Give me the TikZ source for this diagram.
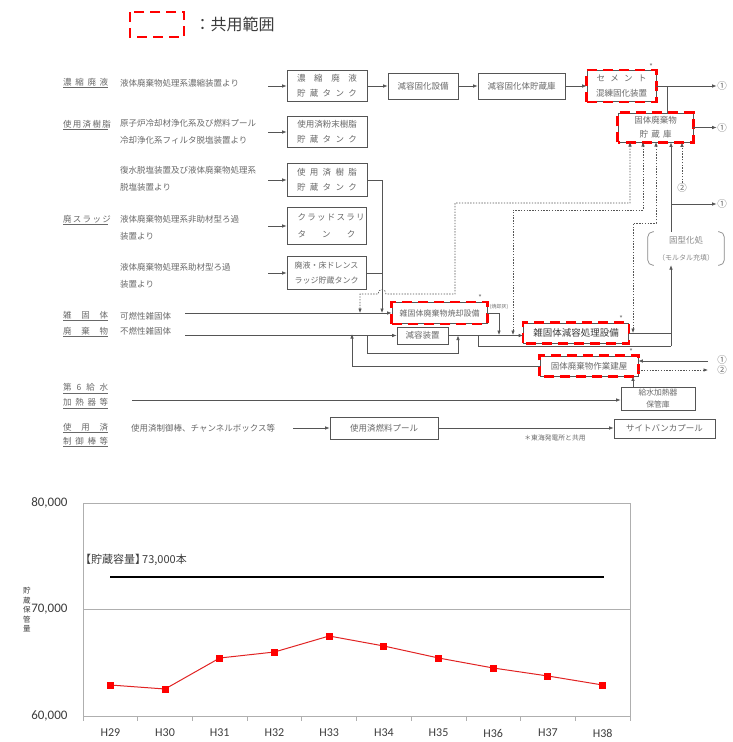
\documentclass[tikz,border=0pt]{standalone}
\usepackage{fontspec}
\setmainfont{Noto Sans CJK JP}
\newfontfamily\chartfont{Carlito}
\usetikzlibrary{arrows.meta,positioning,calc}
\definecolor{linegray}{RGB}{85,85,85}
\definecolor{textgray}{RGB}{105,105,105}
\definecolor{sharedred}{RGB}{255,0,0}
\definecolor{framegray}{RGB}{175,175,175}
\definecolor{plotred}{RGB}{225,35,35}
\definecolor{labdark}{RGB}{60,60,60}
\newcommand{\spread}[2][58pt]{\makebox[#1][s]{#2}}
\tikzset{
  % flow boxes
  tank/.style    = {draw=linegray, line width=0.7pt, fill=white, text=textgray,
                    font=\fontsize{8.5}{15}\selectfont, align=center, inner sep=0pt},
  shared/.style  = {draw=sharedred, line width=2.6pt, dash pattern=on 10pt off 6pt},
  % connectors
  flow/.style    = {draw=linegray, line width=0.7pt, -{Latex[length=4.5pt,width=3.6pt]}},
  link/.style    = {draw=linegray, line width=0.7pt},
  dotflow/.style = {draw=linegray, line width=0.7pt, dash pattern=on 1.4pt off 1.4pt,
                    -{Latex[length=4.5pt,width=3.6pt]}},
  dotboth/.style = {dotflow, {Latex[length=4.5pt,width=3.6pt]}-{Latex[length=4.5pt,width=3.6pt]}},
  % texts
  src/.style     = {text=textgray, font=\fontsize{8.5}{16.5}\selectfont, anchor=west,
                    align=left, inner sep=0pt},
  outmark/.style = {text=textgray, font=\fontsize{9.5}{9.5}\selectfont, inner sep=0.5pt},
  star/.style    = {text=textgray, font=\fontsize{7.5}{7.5}\selectfont, inner sep=0pt},
  % chart
  frame/.style    = {draw=framegray, line width=0.8pt},
  capline/.style  = {draw=black, line width=2.4pt},
  dataline/.style = {draw=plotred, line width=1pt},
  datamark/.style = {fill=sharedred, minimum size=7pt, inner sep=0pt},
  axlab/.style    = {text=labdark, font=\chartfont\fontsize{13}{13}\selectfont, anchor=east},
  catlab/.style   = {text=labdark, font=\chartfont\fontsize{12}{12}\selectfont},
}
\begin{document}
\begin{tikzpicture}[x=1pt,y=-1pt]
  \useasboundingbox (0,0) rectangle (732,742);
  % legend
  \draw[shared] (130,12) rectangle (184,37);
  \node[anchor=west, text=labdark, font=\fontsize{16}{16}\selectfont] (legend) at (191,24) {：共用範囲};

  % category labels
  \node[src] (c1) at (63,83) {\underline{\spread[45pt]{濃 縮 廃 液}}};
  \node[src] (c2) at (63,125) {\underline{\spread[45pt]{使 用 済 樹 脂}}};
  \node[src] (c3) at (63,220) {\underline{\spread[45pt]{廃 ス ラ ッ ジ}}};
  \node[src] (c4) at (63,316) {\underline{\spread[45pt]{雑 固 体}}};
  \node[src] (c5) at (63,332) {\underline{\spread[45pt]{廃 棄 物}}};
  \node[src, font=\fontsize{8.5}{15}\selectfont] (c6) at (63,396)
    {\underline{\spread[45pt]{第 6 給 水}}\\\underline{\spread[45pt]{加 熱 器 等}}};
  \node[src, font=\fontsize{8.5}{14}\selectfont] (c7) at (63,435)
    {\underline{\spread[45pt]{使 用 済}}\\\underline{\spread[45pt]{制 御 棒 等}}};

  % source texts
  \node[src] (t1) at (120,83) {液体廃棄物処理系濃縮装置より};
  \node[src] (t2) at (120,132) {原子炉冷却材浄化系及び燃料プール\\冷却浄化系フィルタ脱塩装置より};
  \node[src] (t3) at (120,179) {復水脱塩装置及び液体廃棄物処理系\\脱塩装置より};
  \node[src] (t4) at (120,228) {液体廃棄物処理系非助材型ろ過\\装置より};
  \node[src] (t5) at (120,276) {液体廃棄物処理系助材型ろ過\\装置より};
  \node[src] (t6) at (120,316) {可燃性雑固体};
  \node[src] (t7) at (120,331) {不燃性雑固体};
  \node[src] (t8) at (131,428) {使用済制御棒、チャンネルボックス等};

  % boxes
  \node[tank, minimum width=80pt, minimum height=31pt] (conc) at (327,86)
    {\spread[60pt]{濃 縮 廃 液}\\\spread[60pt]{貯 蔵 タ ン ク}};
  \node[tank, minimum width=70pt, minimum height=26pt] (solid) at (423,86) {減容固化設備};
  \node[tank, minimum width=87pt, minimum height=26pt] (store) at (521.5,86) {減容固化体貯蔵庫};
  \node[tank, minimum width=69pt, minimum height=31pt] (cement) at (621.5,86)
    {\spread[50pt]{セ メ ン ト}\\混練固化装置};
  \node[tank, minimum width=80pt, minimum height=31pt] (resinA) at (327,132)
    {使用済粉末樹脂\\\spread[60pt]{貯 蔵 タ ン ク}};
  \node[tank, minimum width=80pt, minimum height=33pt] (resinB) at (327,180)
    {\spread[60pt]{使 用 済 樹 脂}\\\spread[60pt]{貯 蔵 タ ン ク}};
  \node[tank, minimum width=79pt, minimum height=37pt, font=\fontsize{8.5}{17}\selectfont] (crud) at (326.5,226)
    {\spread[58pt]{ク ラ ッ ド ス ラ リ}\\\spread[58pt]{タ ン ク}};
  \node[tank, minimum width=79pt, minimum height=33pt, font=\fontsize{8}{15}\selectfont] (sludge) at (326.5,273)
    {廃液・床ドレンス\\ラッジ貯蔵タンク};
  \node[tank, minimum width=75pt, minimum height=29pt, font=\fontsize{8.5}{14}\selectfont] (depot) at (655.5,127.5)
    {固体廃棄物\\\spread[32pt]{貯 蔵 庫}};
  \node[text=textgray!80, align=center, minimum width=76pt, minimum height=33pt, inner sep=0pt,
        font=\fontsize{8.5}{12}\selectfont] (mortar) at (686,248.5)
    {固型化処\\[5pt]{\fontsize{7}{7}\selectfont （モルタル充填）}};
  \node[tank, minimum width=95pt, minimum height=21pt, font=\fontsize{8}{10}\selectfont] (incin) at (439.5,313)
    {雑固体廃棄物焼却設備};
  \node[tank, minimum width=51pt, minimum height=17pt] (compact) at (422.5,335.5) {減容装置};
  \node[tank, minimum width=105pt, minimum height=20pt, text=labdark, font=\fontsize{9.5}{10}\selectfont] (reduce)
    at (576,333) {雑固体減容処理設備};
  \node[tank, minimum width=98pt, minimum height=20pt] (work) at (589,366) {固体廃棄物作業建屋};
  \node[tank, minimum width=74pt, minimum height=23pt, font=\fontsize{7.8}{12}\selectfont] (heater) at (658,398.5)
    {給水加熱器\\保管庫};
  \node[tank, minimum width=108pt, minimum height=22pt] (pool) at (384,428) {使用済燃料プール};
  \node[tank, minimum width=101pt, minimum height=19pt] (bunker) at (664.5,428.5) {サイトバンカプール};
  % mortar brackets
  \draw[link, draw=textgray!80, rounded corners=5pt] ([xshift=6pt]mortar.north west) -- (mortar.north west)
    -- (mortar.south west) -- ([xshift=6pt]mortar.south west);
  \draw[link, draw=textgray!80, rounded corners=5pt] ([xshift=-6pt]mortar.north east) -- (mortar.north east)
    -- (mortar.south east) -- ([xshift=-6pt]mortar.south east);

  % shared facilities
  \foreach \b in {cement,depot,incin,reduce,work}{
    \draw[shared] (\b.south west) rectangle (\b.north east);
  }
  \node[star] (s1) at (651,67) {*};
  \node[star] (s2) at (480,298) {*};
  \node[star] (s3) at (621,319) {*};
  \node[star] (s4) at (631,352) {*};

  % outputs
  \node[outmark] (o1) at (722,86) {①};
  \node[outmark] (o2) at (722,127.5) {①};
  \node[outmark] (o3) at (722,204) {①};
  \node[outmark] (o4) at (682,188) {②};
  \node[outmark] (o5) at (722,360) {①};
  \node[outmark] (o6) at (722,370) {②};

  % inputs
  \coordinate (in1) at (268,86);
  \coordinate (in2) at (268,132);
  \coordinate (in3) at (268,180);
  \coordinate (in4) at (268,226);
  \coordinate (in5) at (268,273);
  \coordinate (in6) at (185,313);
  \coordinate (in7) at (185,335.5);
  \coordinate (in8) at (132,400);
  \coordinate (in9) at (293,428);
  \draw[flow] (in1) -- (conc.west);
  \draw[flow] (in2) -- (resinA.west);
  \draw[flow] (in3) -- (resinB.west);
  \draw[flow] (in4) -- (crud.west);
  \draw[flow] (in5) -- (sludge.west);
  \draw[flow] (in6) -- (incin.west);
  \draw[flow] (in7) -- (compact.west);
  \draw[flow] (in8) -- (in8 -| heater.west);
  \draw[flow] (in9) -- (pool.west);

  % top row
  \draw[flow] (conc.east) -- (solid.west);
  \draw[flow] (solid.east) -- (store.west);
  \draw[flow] (store.east) -- (cement.west);
  \draw[flow] (cement.east) -- (o1.west);
  \coordinate (j1) at (667,86);
  \draw[link] (j1) -- (j1 |- depot.north);
  \draw[flow] (depot.east) -- (o2.west);

  % resin and sludge to incinerator line
  \coordinate (m1) at (382,313);
  \draw[flow] (resinB.east) -| (m1);
  \draw[link] (sludge.east) -- (sludge.east -| m1);

  % incinerator, compactor, volume reduction
  \coordinate (m2) at (499,335);
  \draw[flow] (incin.east) -| (m2);
  \node[star, font=\fontsize{5}{5}\selectfont] (ash) at (499,307) {(焼却灰)};
  \draw[flow] (compact.east) -- (compact.east -| reduce.west);
  \coordinate (b1) at (367,335.5);
  \coordinate (b2) at (458,335.5);
  \draw[flow] (b1) -- ++(0,18) -| (b2);
  \coordinate (b3) at (478,335.5);
  \coordinate (m3) at (671,346);
  \draw[link] (b3) |- (m3);
  \draw[link] (reduce.east) -- (reduce.east -| m3);
  \draw[flow] (m3) -- (m3 |- mortar.south);
  \draw[flow] (m3 |- mortar.north) -- (m3 |- depot.south);
  \draw[flow] (m3 |- o3) -- (o3.west);
  \draw[dotflow] (o4.north) -- (o4 |- depot.south);

  % dotted returns from storage
  \coordinate (d1) at (360,313);
  \coordinate (d2) at (513,335);
  \coordinate (d3) at (633,333);
  \draw[dotboth] (d1) -- (360,294) -- (378,294) .. controls (378,288) and (386,288) .. (386,294)
    -- (455,294) -- (455,203) -- (630,203) -- (630,142);
  \draw[dotboth] (d2) -- (513,210) -- (643,210) -- (643,142);
  \draw[dotboth] (d3) -- (633,223) -- (656,223) -- (656,142);

  % work building
  \coordinate (w1) at (352,334);
  \draw[flow] (work.west) -| (w1);
  \coordinate (r1) at (708,361);
  \coordinate (r2) at (708,370);
  \draw[flow] (r1) -- (r1 -| work.east);
  \draw[dotflow] (r2 -| work.east) -- (r2);
  \coordinate (h1) at (633,387);
  \draw[flow] (h1) -- (h1 |- work.south);

  % spent fuel pool
  \draw[flow] (pool.east) -- (pool.east -| bunker.west);
  \node[star, font=\fontsize{6.8}{7}\selectfont] (note) at (555,438) {＊東海発電所と共用};

  % chart
  \draw[frame] (83,503) rectangle (630,716);
  \draw[frame] (83,609) -- (630,609);
  \foreach \i in {0,...,10} \draw[frame] ({83+\i*54.7},716) -- ++(0,5);
  \node[axlab] (y80) at (71,503) {80,000};
  \node[axlab] (y70) at (71,609) {70,000};
  \node[axlab] (y60) at (71,716) {60,000};
  \node[text=labdark, align=center, inner sep=0pt, font=\fontsize{7.5}{9.5}\selectfont] (ytitle) at (27,610)
    {貯\\蔵\\保\\管\\量};
  \coordinate (cap1) at (110,577);
  \coordinate (cap2) at (604,577);
  \draw[capline] (cap1) -- (cap2);
  \node[anchor=west, text=labdark, inner sep=0pt, font=\fontsize{11}{11}\selectfont] (caplab) at (80,560)
    {【貯蔵容量】\kern-4pt 73,000本};
  \foreach \yr/\py [count=\i] in {29/685,30/689,31/658,32/652,33/636,34/646,35/658,36/668,37/676,38/685}{
    \coordinate (p\i) at ({83+(\i-0.5)*54.7},\py);
    \node[catlab] (x\i) at ({83+(\i-0.5)*54.7},733) {H\yr};
  }
  \draw[dataline] (p1) \foreach \i in {2,...,10}{ -- (p\i)};
  \foreach \i in {1,...,10} \node[datamark] (q\i) at (p\i) {};
\end{tikzpicture}
\end{document}
